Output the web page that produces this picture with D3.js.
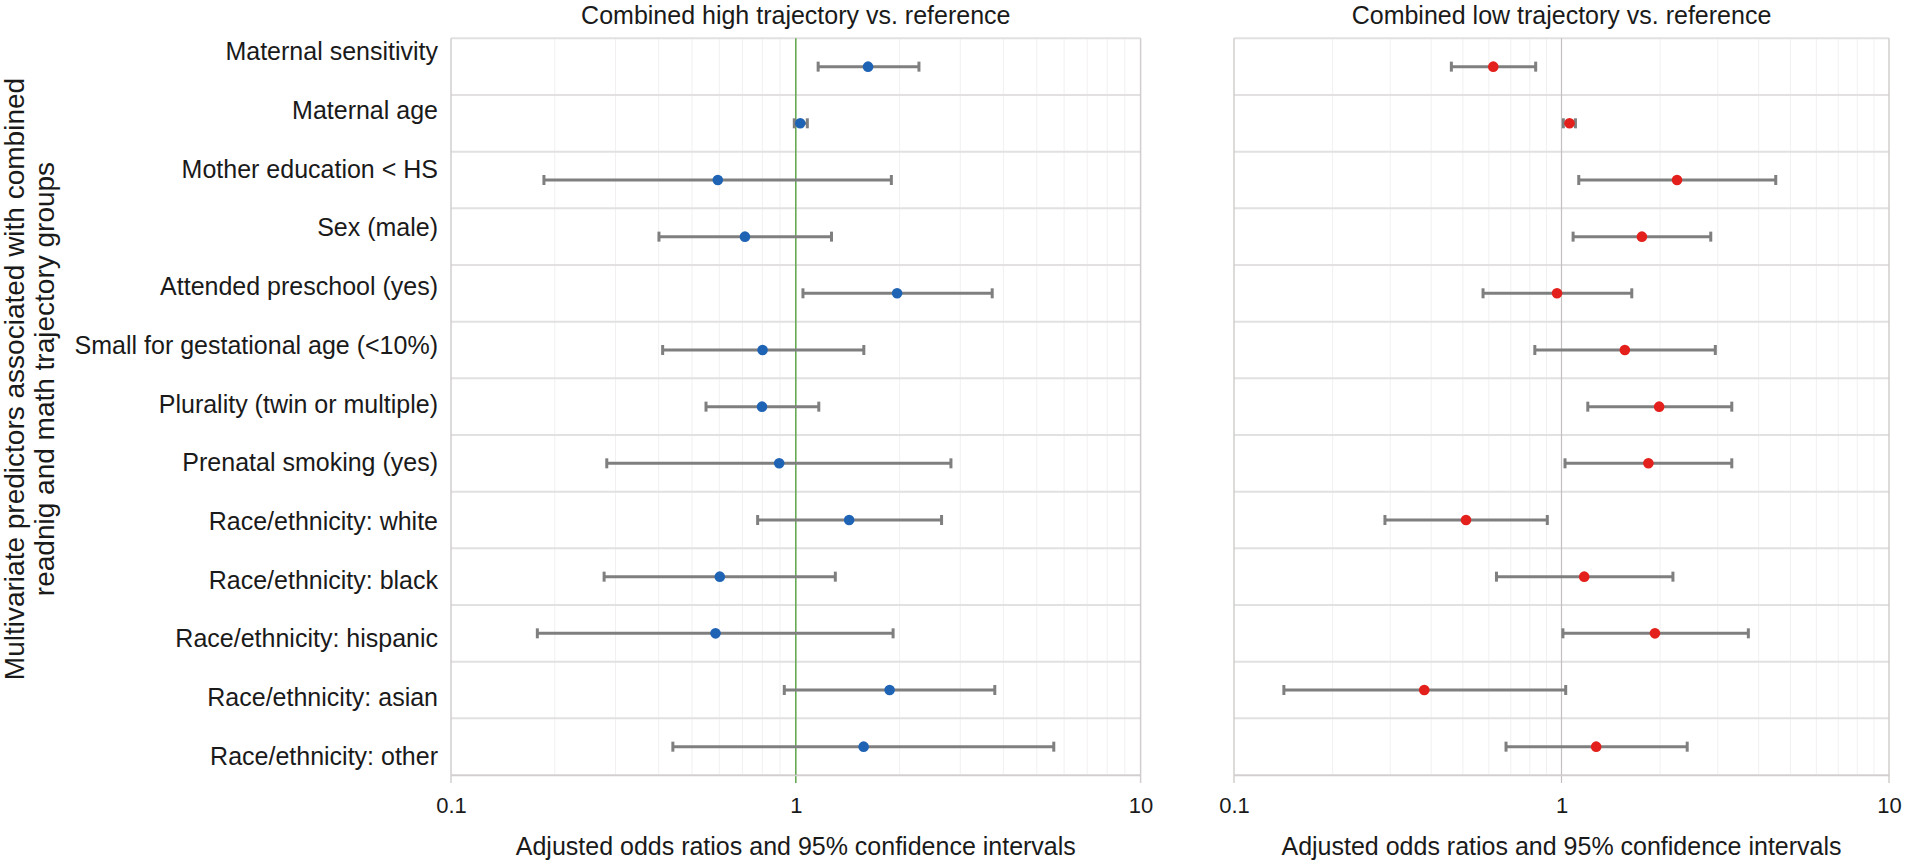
<!DOCTYPE html>
<html>
<head>
<meta charset="utf-8">
<script src="https://cdn.jsdelivr.net/npm/d3@7"></script>
<style>
  html, body { margin: 0; padding: 0; background: #ffffff; }
  svg { display: block; font-family: "Liberation Sans", Arial, Helvetica, sans-serif; }
</style>
</head>
<body>
<svg id="chart" width="1908" height="867"></svg>
<script>
// ---- Data ----
const categories = [
  "Maternal sensitivity",
  "Maternal age",
  "Mother education < HS",
  "Sex (male)",
  "Attended preschool (yes)",
  "Small for gestational age (<10%)",
  "Plurality (twin or multiple)",
  "Prenatal smoking (yes)",
  "Race/ethnicity: white",
  "Race/ethnicity: black",
  "Race/ethnicity: hispanic",
  "Race/ethnicity: asian",
  "Race/ethnicity: other"
];
// Combined high trajectory vs. reference
const highOR = [1.62, 1.03, 0.594, 0.712, 1.967, 0.801, 0.798, 0.895, 1.428, 0.602, 0.585, 1.871, 1.573];
const highLo = [1.161, 0.99, 0.186, 0.401, 1.049, 0.411, 0.549, 0.283, 0.775, 0.278, 0.178, 0.926, 0.44];
const highHi = [2.276, 1.08, 1.893, 1.269, 3.712, 1.575, 1.166, 2.818, 2.647, 1.302, 1.915, 3.777, 5.6];
// Combined low trajectory vs. reference
const lowOR = [0.619, 1.058, 2.253, 1.76, 0.969, 1.561, 1.987, 1.842, 0.511, 1.173, 1.929, 0.381, 1.276];
const lowLo = [0.461, 1.013, 1.129, 1.085, 0.576, 0.829, 1.203, 1.025, 0.289, 0.633, 1.01, 0.142, 0.677];
const lowHi = [0.834, 1.103, 4.51, 2.856, 1.639, 2.949, 3.311, 3.311, 0.905, 2.189, 3.72, 1.03, 2.42];

const tickValues = [0.1, 1, 10];
const tickLabels = ["0.1", "1", "10"];
const panelTitles = ["Combined high trajectory vs. reference", "Combined low trajectory vs. reference"];
const xAxisTitle = "Adjusted odds ratios and 95% confidence intervals";
const yAxisTitle = ["Multivariate predictors associated with combined", "readnig and math trajectory groups"];

// ---- Layout ----
const svg = d3.select("#chart");
const plotTop = 38.3, plotBottom = 775;
const yRows = d3.scaleBand().domain(d3.range(categories.length)).range([plotTop, plotBottom]).padding(0);
const yLabels = d3.scaleBand().domain(d3.range(categories.length)).range([22, 785]).padding(0);

const panels = [
  { x0: 451, x1: 1140.6, or: highOR, lo: highLo, hi: highHi, color: "#1f63b5", refColor: "#66aa55", refWidth: 1.6, title: panelTitles[0] },
  { x0: 1234, x1: 1889, or: lowOR, lo: lowLo, hi: lowHi, color: "#e3201b", refColor: "#c4c0c0", refWidth: 1.2, title: panelTitles[1] }
];

const minorTicks = [];
[0.1, 1].forEach(d => { for (let k = 2; k <= 9; k++) minorTicks.push(+(d * k).toFixed(3)); });

panels.forEach(p => {
  const x = d3.scaleLog().domain([0.1, 10]).range([p.x0, p.x1]);
  const g = svg.append("g");

  // minor vertical gridlines
  g.selectAll("line.minor").data(minorTicks).join("line")
    .attr("x1", d => x(d)).attr("x2", d => x(d))
    .attr("y1", plotTop).attr("y2", plotBottom)
    .attr("stroke", "#f2f0f0").attr("stroke-width", 1);

  // row separators
  g.selectAll("line.row").data(d3.range(categories.length + 1)).join("line")
    .attr("x1", p.x0).attr("x2", p.x1)
    .attr("y1", d => d < categories.length ? yRows(d) : plotBottom)
    .attr("y2", d => d < categories.length ? yRows(d) : plotBottom)
    .attr("stroke", "#e2e0e0").attr("stroke-width", 2);

  // frame verticals (left and right) with ticks below axis
  g.selectAll("line.frame").data([0.1, 10]).join("line")
    .attr("x1", d => x(d)).attr("x2", d => x(d))
    .attr("y1", plotTop).attr("y2", plotBottom + 8)
    .attr("stroke", "#d2cece").attr("stroke-width", 1.5);

  // reference line at 1
  g.append("line")
    .attr("x1", x(1)).attr("x2", x(1))
    .attr("y1", plotTop).attr("y2", plotBottom + 8)
    .attr("stroke", p.refColor).attr("stroke-width", p.refWidth);

  // bottom axis
  const axis = d3.axisBottom(x).tickValues(tickValues)
    .tickFormat((d, i) => tickLabels[i]).tickSize(8).tickSizeOuter(0).tickPadding(14.5);
  const ax = g.append("g").attr("transform", `translate(0,${plotBottom})`).call(axis);
  ax.select(".domain").attr("stroke", "#d2cece").attr("stroke-width", 1.5);
  ax.selectAll(".tick line").attr("stroke", "none");
  ax.selectAll(".tick text").attr("fill", "#1a1a1a").style("font-size", "22px")
    .style("font-family", "'Liberation Sans', Arial, sans-serif");

  // error bars
  const rows = d3.range(categories.length);
  const yc = i => yRows(i) + yRows.bandwidth() / 2;
  g.selectAll("line.ci").data(rows).join("line")
    .attr("x1", i => x(p.lo[i])).attr("x2", i => x(p.hi[i]))
    .attr("y1", yc).attr("y2", yc)
    .attr("stroke", "#7f7f7f").attr("stroke-width", 3);
  g.selectAll("line.capL").data(rows).join("line")
    .attr("x1", i => x(p.lo[i])).attr("x2", i => x(p.lo[i]))
    .attr("y1", i => yc(i) - 5).attr("y2", i => yc(i) + 5)
    .attr("stroke", "#7f7f7f").attr("stroke-width", 3);
  g.selectAll("line.capH").data(rows).join("line")
    .attr("x1", i => x(p.hi[i])).attr("x2", i => x(p.hi[i]))
    .attr("y1", i => yc(i) - 5).attr("y2", i => yc(i) + 5)
    .attr("stroke", "#7f7f7f").attr("stroke-width", 3);
  g.selectAll("circle.pt").data(rows).join("circle")
    .attr("cx", i => x(p.or[i])).attr("cy", yc).attr("r", 5.3)
    .attr("fill", p.color);

  // panel title
  g.append("text").attr("x", (p.x0 + p.x1) / 2).attr("y", 24)
    .attr("text-anchor", "middle").attr("fill", "#1a1a1a")
    .style("font-size", "25px").text(p.title);

  // x-axis title
  g.append("text").attr("x", (p.x0 + p.x1) / 2).attr("y", 855)
    .attr("text-anchor", "middle").attr("fill", "#1a1a1a")
    .style("font-size", "25px").text(xAxisTitle);
});

// category labels
svg.append("g").selectAll("text").data(categories).join("text")
  .attr("x", 438)
  .attr("y", (d, i) => yLabels(i) + yLabels.bandwidth() / 2)
  .attr("dy", "0.36em")
  .attr("text-anchor", "end").attr("fill", "#1a1a1a")
  .style("font-size", "25px")
  .text(d => d);

// y-axis title (two lines, rotated)
const yt = svg.append("text")
  .attr("transform", "translate(0,379) rotate(-90)")
  .attr("text-anchor", "middle").attr("fill", "#1a1a1a")
  .style("font-size", "28px");
yt.append("tspan").attr("x", 0).attr("y", 24).text(yAxisTitle[0]);
yt.append("tspan").attr("x", 0).attr("y", 54).text(yAxisTitle[1]);
</script>
</body>
</html>
